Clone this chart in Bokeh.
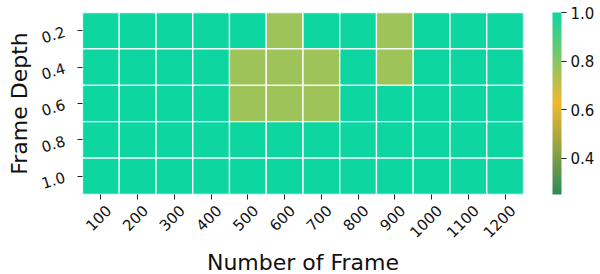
import math
from bokeh.plotting import figure
from bokeh.models import (LinearColorMapper, ColorBar, FixedTicker, ColumnDataSource,
                          LinearAxis, Range1d, PrintfTickFormatter, CustomLabelingPolicy)
from bokeh.embed import file_html
from bokeh.resources import INLINE

frames = ["100", "200", "300", "400", "500", "600", "700", "800", "900", "1000", "1100", "1200"]
depths = ["0.2", "0.4", "0.6", "0.8", "1.0"]
row_02 = [1.0, 1.0, 1.0, 1.0, 1.0, 0.76, 1.0, 1.0, 0.76, 1.0, 1.0, 1.0]
row_04 = [1.0, 1.0, 1.0, 1.0, 0.76, 0.76, 0.76, 1.0, 0.76, 1.0, 1.0, 1.0]
row_06 = [1.0, 1.0, 1.0, 1.0, 0.76, 0.76, 0.76, 1.0, 1.0, 1.0, 1.0, 1.0]
row_08 = [1.0] * 12
row_10 = [1.0] * 12
rows = [row_02, row_04, row_06, row_08, row_10]
vmin, vmax = 0.25, 1.0
cbar_ticks = [0.4, 0.6, 0.8, 1.0]

# colormap: dark green -> gold -> turquoise
stops = [(46, 139, 87), (240, 184, 48), (13, 214, 160)]
palette = []
n = 256
for i in range(n):
    t = i / (n - 1) * 2
    k = min(int(t), 1)
    f = t - k
    c0, c1 = stops[k], stops[k + 1]
    rgb = tuple(int(round(c0[j] + (c1[j] - c0[j]) * f)) for j in range(3))
    palette.append("#%02x%02x%02x" % rgb)

xs, ys, vs = [], [], []
for d, r in zip(depths, rows):
    for i, v in enumerate(r):
        xs.append(i)
        ys.append(d)
        vs.append(v)
src = ColumnDataSource(dict(x=xs, y=ys, v=vs))

mapper = LinearColorMapper(palette=palette, low=vmin, high=vmax)

FW, FH = 441, 182
nf = len(frames)
p = figure(x_range=Range1d(-0.5, nf - 0.5), y_range=list(reversed(depths)),
           frame_width=FW, frame_height=FH,
           output_backend="svg", toolbar_location=None,
           min_border_left=82, min_border_top=12, min_border_bottom=4,
           min_border_right=75)
p.rect(x="x", y="y", width=1, height=1, source=src,
       fill_color={"field": "v", "transform": mapper},
       line_color="white", line_width=1.3)

p.xaxis.ticker = FixedTicker(ticks=list(range(nf)))

# label axis shifted so rotated tick labels are centred on ticks
shift = 0.2
p.extra_x_ranges = {"lab": Range1d(-0.5 - shift, nf - 0.5 - shift)}
lab_axis = LinearAxis(x_range_name="lab",
                      ticker=FixedTicker(ticks=list(range(nf))),
                      major_label_overrides={i: f for i, f in enumerate(frames)})
p.add_layout(lab_axis, "below")

p.outline_line_color = None
p.grid.grid_line_color = None
for ax in (p.xaxis[0], p.yaxis[0], lab_axis):
    ax.axis_line_color = None
    ax.major_tick_in = 0
    ax.major_tick_out = 5
    ax.major_tick_line_color = "#222222"
    ax.minor_tick_line_color = None
    ax.major_label_text_font = "DejaVu Sans"
    ax.major_label_text_font_size = "15px"
    ax.major_label_text_color = "#111111"
    ax.axis_label_text_font = "DejaVu Sans"
    ax.axis_label_text_font_size = "22px"
    ax.axis_label_text_font_style = "normal"
    ax.axis_label_text_color = "#111111"

main_x = p.xaxis[0]
main_x.major_label_policy = CustomLabelingPolicy(code="return new Set()")
main_x.major_label_text_font_size = "0px"
main_x.major_label_standoff = 0
lab_axis.major_tick_line_color = None
lab_axis.major_tick_out = 0
lab_axis.major_label_standoff = 8
lab_axis.major_label_orientation = math.pi / 4
lab_axis.axis_label = "Number of Frame"
lab_axis.axis_label_standoff = 4
p.yaxis.axis_label = "Frame Depth"
p.yaxis.major_label_orientation = 0.3
p.yaxis.major_label_standoff = 13
p.yaxis.axis_label_standoff = 3

cb = ColorBar(color_mapper=mapper, ticker=FixedTicker(ticks=cbar_ticks),
              formatter=PrintfTickFormatter(format="%.1f"),
              width=9, height=FH, padding=0, margin=0,
              location=(FW + 29, 0),
              bar_line_color=None, major_tick_out=5, major_tick_in=0,
              major_tick_line_color="#222222",
              major_label_text_font="DejaVu Sans",
              major_label_text_font_size="15px",
              major_label_text_color="#111111",
              background_fill_color=None, border_line_color=None,
              label_standoff=4)
p.add_layout(cb, "center")

open("out.html", "w").write(file_html(p, INLINE))
